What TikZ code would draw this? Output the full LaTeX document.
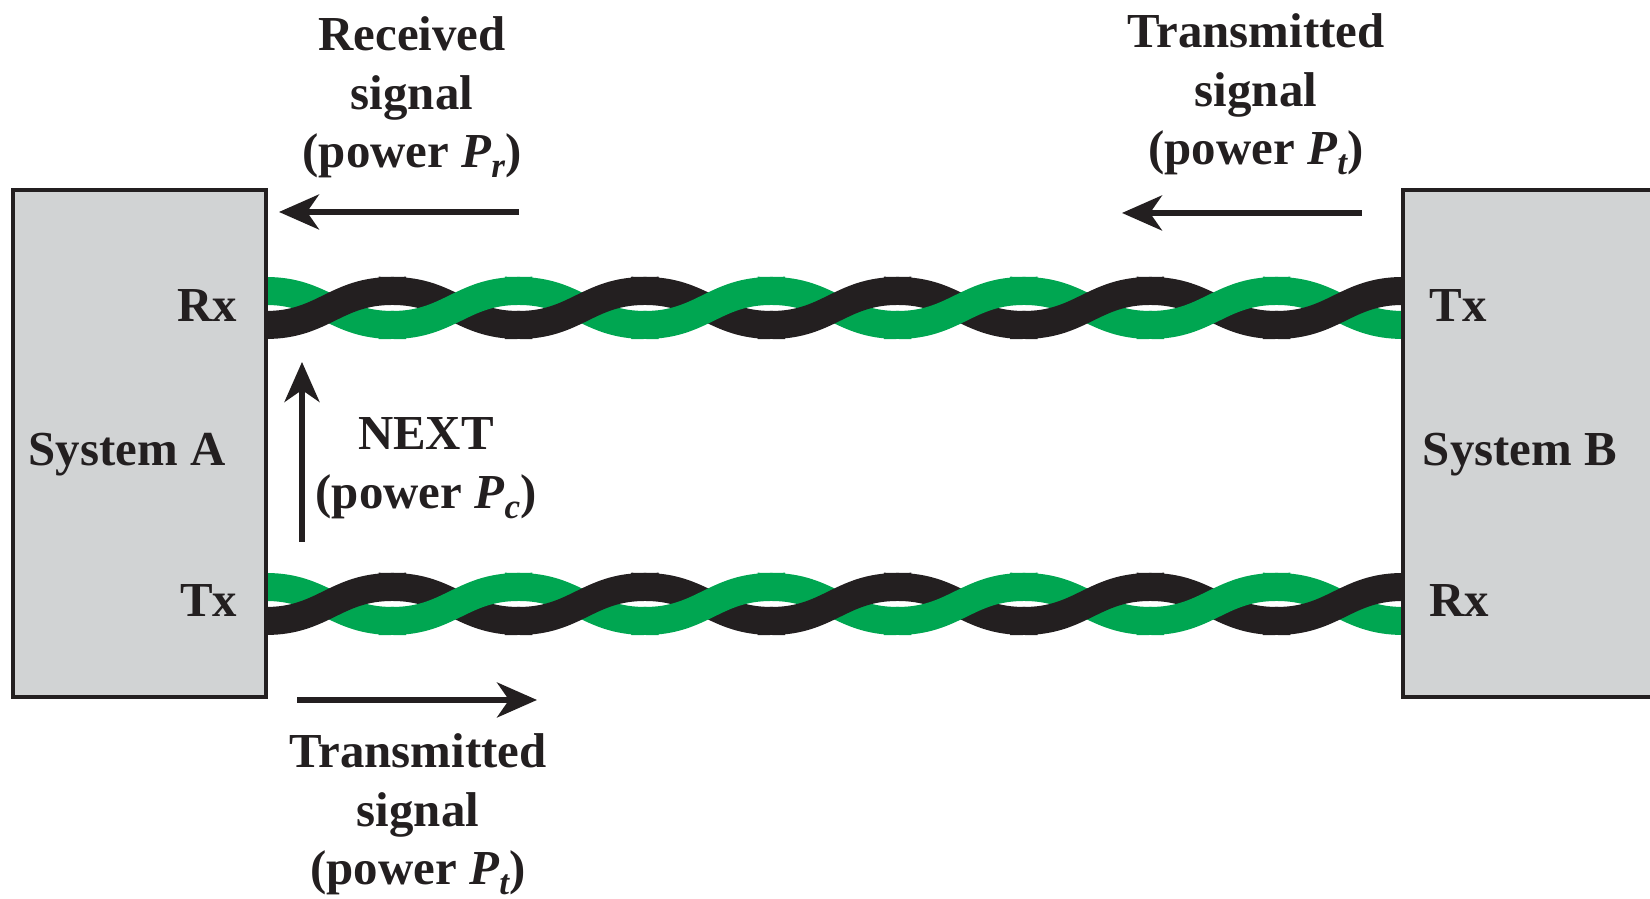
\documentclass[tikz,border=0pt]{standalone}
\usepackage{fontspec}
\setmainfont{Liberation Serif}
\usetikzlibrary{arrows.meta}
\definecolor{wiregreen}{HTML}{00A651}
\definecolor{wireblack}{HTML}{231F20}
\definecolor{boxgray}{HTML}{D1D3D4}
\tikzset{
  sysbox/.style={draw=wireblack, fill=boxgray, line width=1pt, inner sep=0pt},
  portlabel/.style={font=\fontsize{13.9}{16.7}\selectfont\bfseries, text=wireblack, inner sep=0pt},
  sigtext/.style={portlabel, align=center},
  sigarrow/.style={wireblack, line width=1.5pt,
                   -{Stealth[length=4mm, width=3.5mm, inset=1.2mm]}},
  strand/.style={line width=0.28cm, line cap=rect},
}
\newcommand{\pwr}[1]{\textit{P}\raisebox{-0.2em}{\fontsize{10}{10}\selectfont\itshape #1}}
% one twisted pair between the two boxes, #1 is its centre line;
% the strand going up is the one in front
\newcommand{\twistpair}[1]{%
  \foreach \k in {0,...,8}{
    \pgfmathsetmacro{\xa}{2.66+1.2633*\k}
    \pgfmathsetmacro{\xb}{\xa+1.2633}
    \ifodd\k \def\backc{wireblack}\def\frontc{wiregreen}%
    \else \def\backc{wiregreen}\def\frontc{wireblack}\fi
    \draw[strand, \backc] (\xa,#1+0.17) .. controls +(0.57,0) and +(-0.57,0) .. (\xb,#1-0.17);
    \draw[strand, \frontc] (\xa,#1-0.17) .. controls +(0.57,0) and +(-0.57,0) .. (\xb,#1+0.17);
  }%
}

\begin{document}
\begin{tikzpicture}
    \useasboundingbox (0,0) rectangle (16.5,8.99);
    \clip (0,0) rectangle (16.5,8.99);

    % cables go first, the boxes cover their ends
    \twistpair{5.91}
    \twistpair{2.95}

    \node[sysbox, minimum width=2.53cm, minimum height=5.07cm] (sysA) at (1.395,4.555) {};
    \node[sysbox, minimum width=2.70cm, minimum height=5.07cm] (sysB) at (15.38,4.555) {};

    \node[portlabel, anchor=base] (nameA) at (1.27,4.33) {System A};
    \node[portlabel, anchor=base] (nameB) at (15.2,4.33) {System B};
    \node[portlabel, anchor=base east] (rxA) at (2.38,5.77) {Rx};
    \node[portlabel, anchor=base east] (txA) at (2.38,2.82) {Tx};
    \node[portlabel, anchor=base west] (txB) at (14.29,5.77) {Tx};
    \node[portlabel, anchor=base west] (rxB) at (14.29,2.82) {Rx};

    \node[sigtext, anchor=north] (rcvd) at (4.12,8.83) {Received\\signal\\(power \pwr{r})};
    \node[sigtext, anchor=north] (sentB) at (12.56,8.86) {Transmitted\\signal\\(power \pwr{t})};
    \node[sigtext, anchor=north] (next) at (4.26,4.82) {NEXT\\(power \pwr{c})};
    \node[sigtext, anchor=north] (sentA) at (4.18,1.66) {Transmitted\\signal\\(power \pwr{t})};

    % signal directions
    \coordinate (rcvdtail) at (5.19,6.87);
    \coordinate (rcvdtip) at (2.79,6.87);
    \coordinate (sentBtail) at (13.62,6.86);
    \coordinate (sentBtip) at (11.22,6.86);
    \coordinate (nexttail) at (3.02,3.57);
    \coordinate (nexttip) at (3.02,5.37);
    \coordinate (sentAtail) at (2.97,1.99);
    \coordinate (sentAtip) at (5.37,1.99);
    \draw[sigarrow] (rcvdtail) -- (rcvdtip);
    \draw[sigarrow] (sentBtail) -- (sentBtip);
    \draw[sigarrow] (nexttail) -- (nexttip);
    \draw[sigarrow] (sentAtail) -- (sentAtip);
\end{tikzpicture}
\end{document}
